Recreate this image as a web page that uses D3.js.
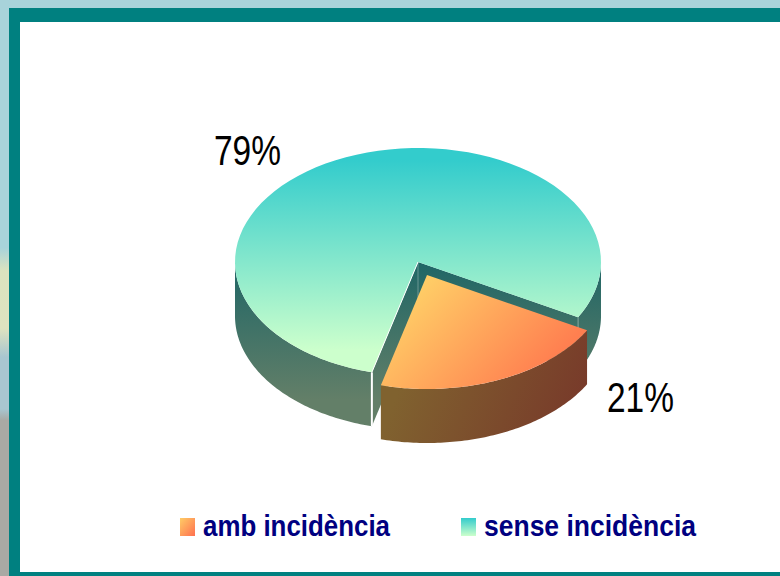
<!DOCTYPE html>
<html>
<head>
<meta charset="utf-8">
<script src="https://cdnjs.cloudflare.com/ajax/libs/d3/7.8.5/d3.min.js"></script>
<style>
  html, body { margin: 0; padding: 0; background: #fff; }
  svg { display: block; }
  .pct { font-family: "Liberation Sans", Arial, sans-serif; font-size: 43px; fill: #000; }
  .legend-label { font-family: "Liberation Sans", Arial, sans-serif; font-weight: bold; font-size: 30px; fill: #000080; }
</style>
</head>
<body>
<div id="chart"></div>
<script>
const categories = ["amb incidència", "sense incidència"];
const shares = [21, 79];

const width = 780, height = 576;
const teal = "#008080";

const cx = 418, cy = 262, rx = 183, ry = 114, depth = 54; // pie ellipse
const explode = [9, 13]; // how far the orange slice is pulled out

const svg = d3.select("#chart").append("svg")
  .attr("width", width)
  .attr("height", height);

// Blurry slide background showing on the left and top
const defs = svg.append("defs");
const bg = defs.append("linearGradient").attr("id", "bg").attr("x1", 0).attr("x2", 0).attr("y1", 0).attr("y2", 1);
[[0, "#a8d3da"], [0.43, "#a8d3da"], [0.47, "#dbe3bf"], [0.57, "#dee3c0"], [0.62, "#a8c6d0"], [0.71, "#a8c6d0"], [0.73, "#a9a9a4"], [1, "#a9a9a4"]]
  .forEach(s => bg.append("stop").attr("offset", s[0]).attr("stop-color", s[1]));
svg.append("rect").attr("width", 9).attr("height", height).attr("fill", "url(#bg)");
svg.append("rect").attr("width", width).attr("height", 8).attr("fill", "#a8d3da");

// Teal frame with the white panel inside
svg.append("rect").attr("x", 9).attr("y", 8).attr("width", width - 9).attr("height", height - 8).attr("fill", teal);
svg.append("rect").attr("x", 20).attr("y", 22).attr("width", width - 20).attr("height", 550).attr("fill", "#fff");

// Gradients
const addGradient = (id, units, x1, y1, x2, y2, c1, c2) => {
  const g = defs.append("linearGradient").attr("id", id)
    .attr("gradientUnits", units)
    .attr("x1", x1).attr("y1", y1).attr("x2", x2).attr("y2", y2);
  g.append("stop").attr("offset", 0).attr("stop-color", c1);
  g.append("stop").attr("offset", 1).attr("stop-color", c2);
};
addGradient("tealTop", "userSpaceOnUse", 0, 160, 0, 350, "#33cccc", "#ccffcc");
addGradient("tealWall", "userSpaceOnUse", 0, 262, 0, 400, "#1f6666", "#637f68");
addGradient("orangeTop", "userSpaceOnUse", 425, 285, 530, 385, "#ffcc66", "#ff7f50");
addGradient("orangeWall", "userSpaceOnUse", 400, 385, 565, 450, "#80622f", "#783a2a");
addGradient("orangeKey", "objectBoundingBox", 0, 0, 1, 1, "#ffcc66", "#ff7050");
addGradient("tealKey", "objectBoundingBox", 0, 0, 0, 1, "#33cccc", "#ccffcc");

// Slice angles, clockwise from the top
const pie = d3.pie().sort(null)
  .startAngle(119 * Math.PI / 180)
  .endAngle(479 * Math.PI / 180);
const arcs = pie(shares);
const orange = arcs[0], cyan = arcs[1];

const pt = (a, dx = 0, dy = 0) => [cx + dx + rx * Math.sin(a), cy + dy - ry * Math.cos(a)];
const line = d3.line();
const rim = (a0, a1, dx = 0, dy = 0) =>
  d3.range(0, 81).map(i => pt(a0 + (a1 - a0) * i / 80, dx, dy));

const wallPath = (a0, a1, dx = 0, dy = 0) =>
  line(rim(a0, a1, dx, dy).concat(rim(a1, a0, dx, dy + depth))) + "Z";
const topPath = (a0, a1, dx = 0, dy = 0) =>
  line([[cx + dx, cy + dy]].concat(rim(a0, a1, dx, dy))) + "Z";

const pie3d = svg.append("g");

// Big slice: outer wall only shows on the lower half of the ellipse
pie3d.append("path").attr("d", wallPath(cyan.startAngle, 1.5 * Math.PI)).attr("fill", "url(#tealWall)");
pie3d.append("path").attr("d", wallPath(2.5 * Math.PI, cyan.endAngle)).attr("fill", "url(#tealWall)");

// Cut faces left open by the pulled out slice
[cyan.startAngle, cyan.endAngle].forEach(a => {
  const p = pt(a);
  pie3d.append("path")
    .attr("d", line([[cx, cy], p, [p[0], p[1] + depth], [cx, cy + depth]]) + "Z")
    .attr("fill", "url(#tealWall)");
});
pie3d.append("path").attr("d", topPath(cyan.startAngle, cyan.endAngle)).attr("fill", "url(#tealTop)");

// Thin light edges on the cut faces
const pLeft = pt(cyan.startAngle), pRight = pt(cyan.endAngle);
pie3d.append("path").attr("d", line([[cx, cy], pLeft]))
  .attr("fill", "none").attr("stroke", "#fff").attr("stroke-width", 1);
pie3d.append("path").attr("d", line([pLeft, [pLeft[0], pLeft[1] + depth]]))
  .attr("fill", "none").attr("stroke", "#fff").attr("stroke-width", 2);
pie3d.append("path").attr("d", line([pRight, [pRight[0], pRight[1] + depth]]))
  .attr("fill", "none").attr("stroke", "#fff").attr("stroke-opacity", 0.35);
pie3d.append("path").attr("d", line([[cx, cy], [cx, cy + depth]]))
  .attr("fill", "none").attr("stroke", "#fff").attr("stroke-opacity", 0.3);

// Orange slice
pie3d.append("path")
  .attr("d", wallPath(orange.startAngle, orange.endAngle, explode[0], explode[1]))
  .attr("fill", "url(#orangeWall)");
pie3d.append("path")
  .attr("d", topPath(orange.startAngle, orange.endAngle, explode[0], explode[1]))
  .attr("fill", "url(#orangeTop)");

// Percent labels
svg.append("text").attr("class", "pct").attr("x", 214).attr("y", 165)
  .attr("textLength", 67).attr("lengthAdjust", "spacingAndGlyphs")
  .text(d3.format(".0f")(shares[1]) + "%");
svg.append("text").attr("class", "pct").attr("x", 607).attr("y", 412)
  .attr("textLength", 67).attr("lengthAdjust", "spacingAndGlyphs")
  .text(d3.format(".0f")(shares[0]) + "%");

// Legend
const legendX = d3.scaleOrdinal().domain(categories).range([180, 461]);
const legendLen = d3.scaleOrdinal().domain(categories).range([187, 212]);
const keyFill = d3.scaleOrdinal().domain(categories).range(["url(#orangeKey)", "url(#tealKey)"]);

const legend = svg.selectAll("g.key")
  .data(categories)
  .join("g")
    .attr("class", "key")
    .attr("transform", d => `translate(${legendX(d)}, 518)`);

legend.append("rect")
  .attr("width", 15)
  .attr("height", 18)
  .attr("fill", d => keyFill(d));

legend.append("text")
  .attr("class", "legend-label")
  .attr("x", 23)
  .attr("y", 18)
  .attr("textLength", d => legendLen(d))
  .attr("lengthAdjust", "spacingAndGlyphs")
  .text(d => d);
</script>
</body>
</html>
